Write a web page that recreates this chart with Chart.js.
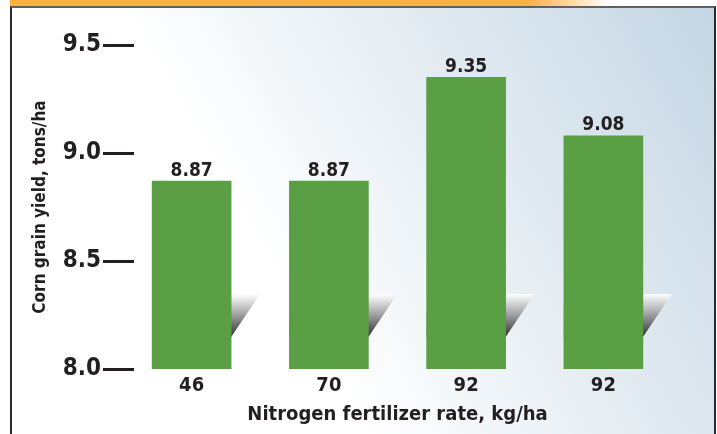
<!DOCTYPE html>
<html>
<head>
<meta charset="utf-8">
<script src="https://cdn.jsdelivr.net/npm/chart.js@4"></script>
<style>
    html, body { margin: 0; padding: 0; background: #fff; }
    #wrap { position: relative; width: 717px; height: 434px; overflow: hidden; }
    #band { position: absolute; left: 10px; top: 0; width: 600px; height: 6px;
        background: linear-gradient(to right, #fbb040 0%, #fbb040 86%, #ffffff 100%); }
    #box { position: absolute; left: 10px; top: 6px; width: 702px; height: 440px;
        border-top: 2px solid #5f6062; border-left: 2px solid #2b2b2b; border-right: 2px solid #2b2b2b;
        background: linear-gradient(60deg, #ffffff 38%, #c4d6e4 100%); }
    canvas { position: absolute; left: 0; top: 0; }
</style>
</head>
<body>
<div id="wrap">
    <div id="band"></div>
    <div id="box"></div>
    <canvas id="chartYield" width="717" height="434"></canvas>
</div>
<script>
// data
const rates = ['46', '70', '92', '92'];
const yields = [8.87, 8.87, 9.35, 9.08];
const yTicks = [8.0, 8.5, 9.0, 9.5];

const fontFam = '"Liberation Sans Narrow", "DejaVu Sans Condensed", "Roboto", sans-serif';
const inkColor = '#231f20';

// shadow wedge di belakang tiap bar
const shadowPlugin = {
    id: 'shadowWedge',
    beforeDatasetsDraw(chart) {
        const ctx = chart.ctx;
        const bottom = chart.chartArea.bottom;
        const yTop = bottom - 75, yBot = bottom - 32;
        chart.getDatasetMeta(0).data.forEach(bar => {
            const half = bar.width / 2;
            const l = bar.x - half, r = bar.x + half;
            const g = ctx.createLinearGradient(0, yTop, 0, yBot);
            g.addColorStop(0, 'rgba(255,255,255,0.9)');
            g.addColorStop(1, '#2e2e30');
            ctx.save();
            ctx.fillStyle = g;
            ctx.beginPath();
            ctx.moveTo(l, yTop);
            ctx.lineTo(r + 29, yTop);
            ctx.lineTo(r, yBot);
            ctx.lineTo(l, yBot);
            ctx.closePath();
            ctx.fill();
            ctx.restore();
        });
    }
};

// angka di atas bar + garis tick
const labelPlugin = {
    id: 'valueLabels',
    afterDraw(chart) {
        const ctx = chart.ctx;
        ctx.save();
        ctx.fillStyle = inkColor;
        ctx.font = 'bold 19px ' + fontFam;
        ctx.textAlign = 'center';
        ctx.textBaseline = 'bottom';
        chart.getDatasetMeta(0).data.forEach((bar, i) => {
            ctx.fillText(yields[i].toFixed(2), bar.x, bar.y - 1);
        });
        const ys = chart.scales.y;
        ctx.strokeStyle = inkColor;
        ctx.lineWidth = 3;
        yTicks.forEach(v => {
            const py = Math.round(ys.getPixelForValue(v)) + 0.5;
            ctx.beginPath();
            ctx.moveTo(103, py);
            ctx.lineTo(134, py);
            ctx.stroke();
        });
        ctx.restore();
    }
};

new Chart(document.getElementById('chartYield').getContext('2d'), {
    type: 'bar',
    data: {
        labels: rates,
        datasets: [{
            label: 'Corn grain yield',
            data: yields,
            backgroundColor: '#5a9f44',
            borderWidth: 0,
            barThickness: 79
        }]
    },
    options: {
        responsive: false,
        animation: false,
        layout: {
            padding: { left: 12, right: 45, top: 45, bottom: 0 }
        },
        plugins: {
            legend: { display: false },
            tooltip: { enabled: false }
        },
        scales: {
            x: {
                grid: { display: false, drawTicks: false },
                border: { display: false },
                ticks: {
                    color: inkColor,
                    padding: 5,
                    font: { family: fontFam, size: 20, weight: 'bold' }
                },
                title: {
                    display: true,
                    text: 'Nitrogen fertilizer rate, kg/ha',
                    color: inkColor,
                    padding: { top: 0, bottom: 7 },
                    font: { family: fontFam, size: 20, weight: 'bold' }
                },
                afterFit: function(scale) { scale.height = 65; }
            },
            y: {
                min: 8,
                max: 9.5,
                grid: { display: false, drawTicks: false },
                border: { display: false },
                afterBuildTicks: function(scale) {
                    scale.ticks = yTicks.map(v => ({ value: v }));
                },
                ticks: {
                    color: inkColor,
                    padding: 22,
                    font: { family: fontFam, size: 24, weight: 'bold' },
                    callback: function(value) { return Number(value).toFixed(1); }
                },
                title: {
                    display: true,
                    text: 'Corn grain yield, tons/ha',
                    color: inkColor,
                    padding: { top: 18, bottom: 0 },
                    font: { family: fontFam, size: 17, weight: 'bold' }
                },
                afterFit: function(scale) { scale.width = 111; }
            }
        }
    },
    plugins: [shadowPlugin, labelPlugin]
});
</script>
</body>
</html>
